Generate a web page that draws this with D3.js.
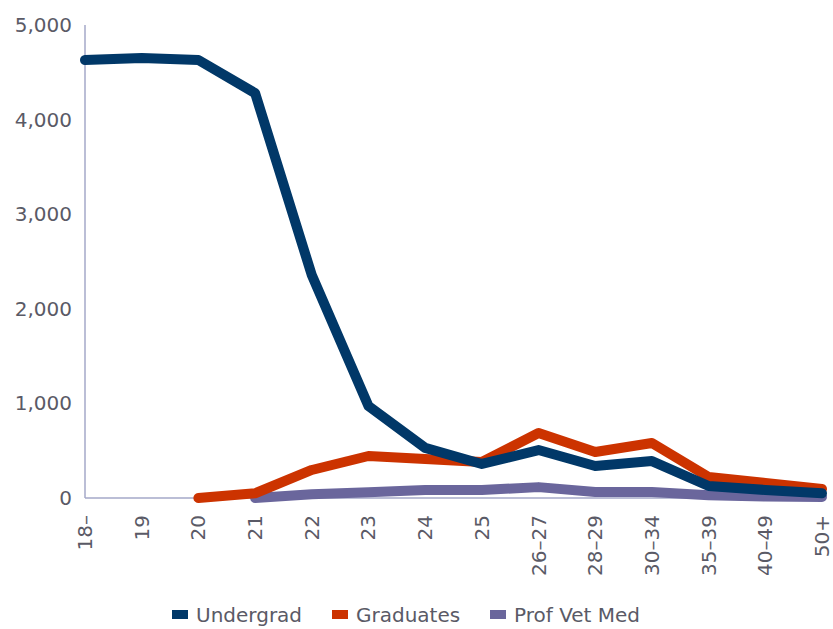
<!DOCTYPE html>
<html lang="en">
  <head>
    <meta charset="UTF-8" />
    <title>age-lines</title>
    <script src="https://d3js.org/d3.v7.min.js"></script>
    <style>
      body { margin: 0; background: #fff; }
      text { font-family: 'DejaVu Sans', sans-serif; fill: #5a5a66; }
    </style>
  </head>
  <body>
    <svg width="833" height="629"></svg>
  </body>

  <script>
    // data
    var ages = ['18-', '19', '20', '21', '22', '23', '24', '25', '26-27', '28-29', '30-34', '35-39', '40-49', '50+']
    var undergrad = [4630, 4650, 4630, 4280, 2357, 972, 530, 360, 507, 338, 390, 127, 85, 50]
    var graduates = [null, null, 0, 50, 296, 444, 412, 380, 687, 486, 581, 222, 159, 95]
    var profVet = [null, null, null, 0, 40, 60, 85, 85, 115, 63, 63, 30, 15, 10]
    var yTicks = [0, 1000, 2000, 3000, 4000, 5000]

    var series = [
      { name: 'Undergrad', values: undergrad, color: '#013868' },
      { name: 'Graduates', values: graduates, color: '#cc3300' },
      { name: 'Prof Vet Med', values: profVet, color: '#6a669c' },
    ]

    var svg = d3.select('svg')
    var plotLeft = 85, plotRight = 822, plotTop = 25, plotBottom = 498

    var x = d3.scalePoint().domain(ages).range([plotLeft, plotRight])
    var y = d3.scaleLinear().domain([0, 5000]).range([plotBottom, plotTop])

    // axes lines
    svg.append('line')
      .attr('x1', plotLeft).attr('x2', plotLeft).attr('y1', plotTop).attr('y2', plotBottom)
      .attr('stroke', '#a4a9c8').attr('stroke-width', 1.5)
    svg.append('line')
      .attr('x1', plotLeft).attr('x2', plotRight).attr('y1', plotBottom).attr('y2', plotBottom)
      .attr('stroke', '#a4a9c8').attr('stroke-width', 1.5)

    // y labels
    svg.append('g').selectAll('text')
      .data(yTicks)
      .enter()
      .append('text')
      .attr('x', 72)
      .attr('y', function (d) { return y(d) + 7 })
      .attr('text-anchor', 'end')
      .attr('font-size', 20)
      .text(d3.format(','))

    // x labels, rotated
    svg.append('g').selectAll('text')
      .data(ages)
      .enter()
      .append('text')
      .attr('transform', function (d) { return 'translate(' + (x(d) + 7) + ',' + 515 + ') rotate(-90)' })
      .attr('text-anchor', 'end')
      .attr('font-size', 20)
      .text(function (d) { return d.replace('-', '\u2013') })

    // lines
    var line = d3.line()
      .defined(function (d) { return d != null })
      .x(function (d, i) { return x(ages[i]) })
      .y(function (d) { return y(d) })

    svg.append('g').selectAll('path')
      .data(series.slice().reverse())
      .enter()
      .append('path')
      .attr('d', function (s) { return line(s.values) })
      .attr('fill', 'none')
      .attr('stroke', function (s) { return s.color })
      .attr('stroke-width', 10)
      .attr('stroke-linejoin', 'round')
      .attr('stroke-linecap', 'round')

    // legend
    var legendX = [172, 332, 490]
    var lg = svg.append('g').selectAll('g')
      .data(series)
      .enter()
      .append('g')
      .attr('transform', function (d, i) { return 'translate(' + legendX[i] + ',615)' })
    lg.append('rect')
      .attr('x', 0).attr('y', -5).attr('width', 16).attr('height', 9)
      .attr('fill', function (d) { return d.color })
    lg.append('text')
      .attr('x', 24).attr('y', 7)
      .attr('font-size', 20)
      .text(function (d) { return d.name })
  </script>
</html>
